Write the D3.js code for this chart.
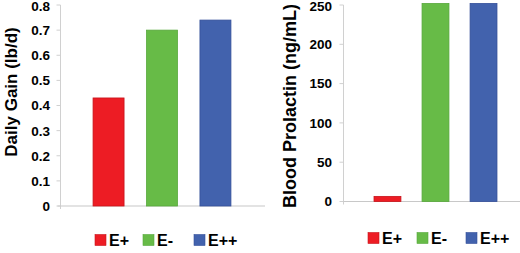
<!DOCTYPE html>
<html><head><meta charset="utf-8">
<script src="https://cdn.jsdelivr.net/npm/d3@7"></script>
<style>body{margin:0;background:#fff}svg{display:block;font-family:"Liberation Sans",Arial,sans-serif;font-weight:bold}</style>
</head><body><svg id="c" width="520" height="253"></svg>
<script>
const categories = ["E+", "E-", "E++"];
const colors = ["#ed1c24", "#67bb47", "#4262ad"];
const strokes = ["#c8141b", "#58a83c", "#35509a"];
const gainValues = [0.43, 0.70, 0.74];
const gainTicks = [0, 0.1, 0.2, 0.3, 0.4, 0.5, 0.6, 0.7, 0.8];
const prolactinValues = [6.5, 252, 252];
const prolactinTicks = [0, 50, 100, 150, 200, 250];

const svg = d3.select("#c");

function panel(cfg) {
  const g = svg.append("g");
  const y = d3.scaleLinear().domain([0, cfg.max]).range([cfg.y0, cfg.y1]);
  const x = d3.scaleBand().domain(categories).range([cfg.xa, cfg.xb]).paddingInner(cfg.pi).paddingOuter(cfg.po);
  g.append("line").attr("x1", cfg.ax).attr("x2", cfg.ax).attr("y1", y(cfg.max)).attr("y2", cfg.y0 + 3)
    .attr("stroke", "#d0d0d0").attr("stroke-width", 1);
  g.append("line").attr("x1", cfg.ax - 3).attr("x2", cfg.bx).attr("y1", cfg.y0).attr("y2", cfg.y0)
    .attr("stroke", "#c8c8c8").attr("stroke-width", 1.2);
  const ticks = g.selectAll(".t").data(cfg.ticks).join("g").attr("transform", d => `translate(0,${y(d)})`);
  ticks.append("line").attr("x1", cfg.ax - 4).attr("x2", cfg.ax).attr("stroke", "#d0d0d0");
  ticks.append("text").attr("x", cfg.lx).attr("y", (d, i) => d === cfg.max ? 1 : 0).attr("dy", "0.36em").attr("text-anchor", "end")
    .attr("font-size", 13.5).attr("fill", "#000").text(cfg.fmt);
  g.selectAll(".b").data(cfg.values).join("rect")
    .attr("x", (d, i) => x(categories[i])).attr("width", x.bandwidth())
    .attr("y", d => y(d)).attr("height", d => cfg.y0 - y(d))
    .attr("fill", (d, i) => colors[i]).attr("stroke", (d, i) => strokes[i]).attr("stroke-width", 0.8);
  g.append("text").attr("transform", `translate(${cfg.tx},${cfg.ty}) rotate(-90)`)
    .attr("text-anchor", "middle").attr("dy", "0.35em").attr("font-size", cfg.tfs).attr("fill", "#000").text(cfg.title);
  const lg = g.selectAll(".l").data(categories).join("g").attr("transform", (d, i) => `translate(${cfg.lgx[i]},${cfg.lgy})`);
  lg.append("rect").attr("x", 0).attr("y", -5.5).attr("width", 11).attr("height", 11)
    .attr("fill", (d, i) => colors[i]).attr("stroke", (d, i) => strokes[i]).attr("stroke-width", 0.6);
  lg.append("text").attr("x", 14).attr("dy", "0.36em").attr("font-size", 16).attr("fill", "#000").text(d => d);
}

panel({max: 0.8, y0: 206, y1: 5, xa: 61, xb: 263, pi: 0.42, po: 0.6, ax: 60.5, bx: 265, lx: 50,
  ticks: gainTicks, values: gainValues, fmt: d => d === 0 ? "0" : d3.format(".1f")(d),
  title: "Daily Gain (lb/d)", tfs: 17, tx: 11, ty: 92, lgx: [95, 143, 194], lgy: 240});
panel({max: 250, y0: 201.5, y1: 5, xa: 344, xb: 527, pi: 0.44, po: 0.625, ax: 343.5, bx: 520, lx: 332,
  ticks: prolactinTicks, values: prolactinValues, fmt: d => d,
  title: "Blood Prolactin (ng/mL)", tfs: 18, tx: 290, ty: 106, lgx: [368, 417, 466], lgy: 238});
</script></body></html>
